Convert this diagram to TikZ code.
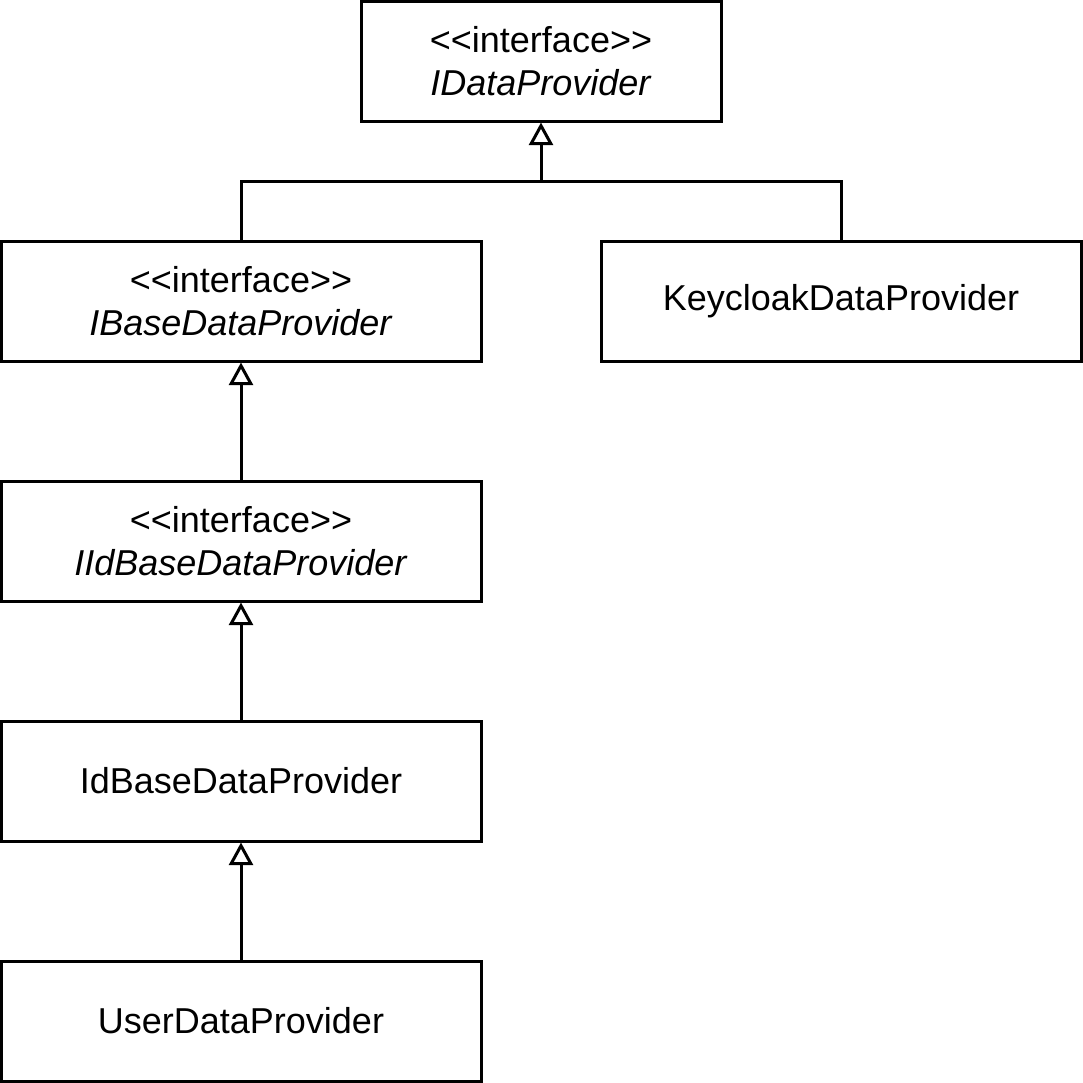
\documentclass[tikz,border=0pt]{standalone}
\usepackage{fontspec}
\setmainfont{Liberation Sans}[Ligatures=TeXOff]
\usetikzlibrary{arrows.meta}

\tikzset{
  classbox/.style={draw,line width=2.25pt,minimum width=360pt,minimum height=90pt,
    inner sep=0pt,align=center,font=\fontsize{27}{32.4}\selectfont},
  inherit/.style={line width=2.25pt,-{Triangle[open,length=17pt,width=18pt]}}
}

\begin{document}
\begin{tikzpicture}[x=0.75pt,y=-0.75pt]
\path[use as bounding box] (0,0) rectangle (1083,1083);
\node[classbox,minimum width=270pt] (idata) at (541,61) {<<interface>>\\\textit{IDataProvider}};
\node[classbox] (ibase) at (241,301) {<<interface>>\\\textit{IBaseDataProvider}};
\node[classbox] (keycloak) at (841,301) {KeycloakDataProvider};
\node[classbox] (iidbase) at (241,541) {<<interface>>\\\textit{IIdBaseDataProvider}};
\node[classbox] (idbase) at (241,781) {IdBaseDataProvider};
\node[classbox] (user) at (241,1021) {UserDataProvider};
\coordinate (join) at (541,181);
\draw[line width=2.25pt] (ibase.north) |- (join) -| (keycloak.north);
\draw[inherit] (join) -- (idata.south);
\draw[inherit] (iidbase.north) -- (ibase.south);
\draw[inherit] (idbase.north) -- (iidbase.south);
\draw[inherit] (user.north) -- (idbase.south);
\end{tikzpicture}
\end{document}
